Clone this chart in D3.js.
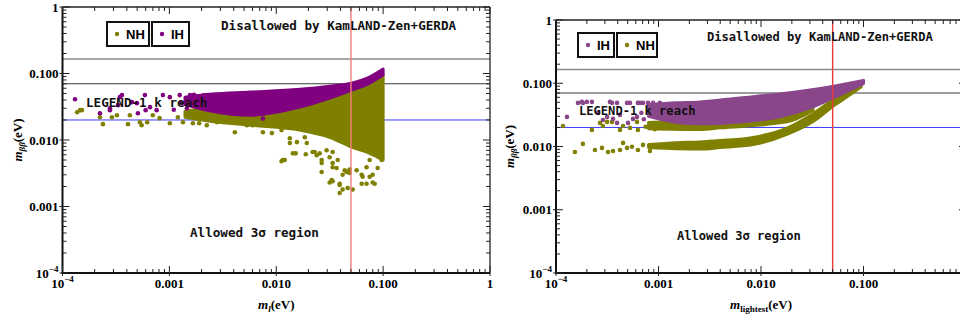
<!DOCTYPE html>
<html>
<head>
<meta charset="utf-8">
<script src="https://cdn.jsdelivr.net/npm/d3@7"></script>
<style>
  body { margin: 0; background: #fff; }
  svg { display: block; }
</style>
</head>
<body>
<div class="chart"></div>
<script>
// decade ticks, same on every axis
const tickValues = [1e-4, 1e-3, 1e-2, 1e-1, 1];
const tickLabels = ['10^-4', '0.001', '0.010', '0.100', '1'];

// limits in eV
const kamlandUpper = 0.165;
const kamlandLower = 0.07;
const legendReach = 0.02;
const massCut = 0.05;

// left panel (m_l): dense part of each cloud as [m, low, high]
const ihBandLeft = [
  [0.0014, 0.034, 0.044], [0.0025, 0.027, 0.049], [0.0057, 0.0236, 0.0525],
  [0.0166, 0.0312, 0.058], [0.0316, 0.0426, 0.0646], [0.0508, 0.0562, 0.0717],
  [0.0748, 0.0717, 0.0883], [0.1, 0.0946, 0.1165]
];
const nhBandLeft = [
  [0.0014, 0.022, 0.027], [0.0025, 0.019, 0.030], [0.0057, 0.0167, 0.028],
  [0.0166, 0.0141, 0.035], [0.0316, 0.011, 0.046], [0.0508, 0.0078, 0.06],
  [0.0748, 0.0063, 0.075], [0.1, 0.005, 0.095]
];
// left panel: loose points [m, mbb]
const ihDotsLeft = [
  [0.000131, 0.0411], [0.000224, 0.0253], [0.000278, 0.0281], [0.00036, 0.0473],
  [0.00033, 0.0334], [0.000446, 0.0371], [0.000497, 0.0358], [0.000508, 0.0253],
  [0.00059, 0.0473], [0.0006, 0.0281], [0.00066, 0.0312], [0.00076, 0.0281],
  [0.00087, 0.0473], [0.00101, 0.0441], [0.00125, 0.0473], [0.00146, 0.0301],
  [0.00156, 0.0473], [0.0019, 0.0398], [0.000344, 0.0441], [0.000278, 0.0301],
  [0.0011, 0.0285], [0.0013, 0.036], [0.0017, 0.048], [0.0021, 0.047],
  [0.0075, 0.021]
];
const nhDotsLeft = [
  [0.000137, 0.0262], [0.000146, 0.0281], [0.000152, 0.0281], [0.000224, 0.022],
  [0.000239, 0.0173], [0.00029, 0.022], [0.000323, 0.0236], [0.00041, 0.0173],
  [0.000427, 0.0236], [0.00053, 0.0185], [0.00055, 0.0167], [0.00062, 0.0185],
  [0.0007, 0.0236], [0.00081, 0.0213], [0.00101, 0.0179], [0.00134, 0.0185],
  [0.00166, 0.0179], [0.0019, 0.0179], [0.00224, 0.0167], [0.00278, 0.0185],
  [0.0041, 0.0131], [0.0053, 0.0167], [0.0012, 0.022], [0.0016, 0.0245],
  [0.0060, 0.0167], [0.0075, 0.0131], [0.0091, 0.0127], [0.0112, 0.0141],
  [0.0134, 0.0106], [0.0156, 0.0093], [0.0143, 0.0063], [0.0115, 0.0050],
  [0.0112, 0.0048], [0.0185, 0.0110], [0.0219, 0.0066], [0.0255, 0.0063],
  [0.0266, 0.0050], [0.0316, 0.0055], [0.0337, 0.0039], [0.033, 0.0025],
  [0.0392, 0.0021], [0.0418, 0.0030], [0.0486, 0.0032], [0.0565, 0.0035],
  [0.0643, 0.0028], [0.070, 0.0039], [0.0798, 0.0030], [0.0889, 0.0038],
  [0.0968, 0.0050], [0.0748, 0.0050], [0.0134, 0.0090], [0.0193, 0.0090],
  [0.012, 0.0050], [0.0152, 0.0063], [0.0189, 0.0061], [0.0229, 0.0066],
  [0.0266, 0.0033], [0.0337, 0.0045], [0.0316, 0.0023], [0.0337, 0.0024],
  [0.0392, 0.0022], [0.0418, 0.0018], [0.0392, 0.0016], [0.0466, 0.0019],
  [0.0519, 0.0018], [0.0437, 0.0035], [0.0486, 0.0036], [0.063, 0.0030],
  [0.063, 0.0022], [0.070, 0.0022], [0.0798, 0.0023], [0.0834, 0.0022],
  [0.0748, 0.0028], [0.0266, 0.0045], [0.0376, 0.0050], [0.0456, 0.0033],
  [0.0367, 0.0038], [0.0296, 0.0070], [0.0337, 0.0066], [0.0239, 0.0059]
];

// right panel (m_lightest)
const ihBandRight = [
  [0.0008, 0.030, 0.046], [0.0015, 0.024, 0.049], [0.00254, 0.0228, 0.0507],
  [0.00624, 0.0245, 0.0586], [0.0153, 0.0294, 0.0678], [0.0301, 0.0407, 0.0784],
  [0.0527, 0.0608, 0.0906], [0.1, 0.099, 0.111]
];
const nhBandRightUpper = [
  [0.0008, 0.019, 0.024], [0.00254, 0.0185, 0.026], [0.00398, 0.0197, 0.027],
  [0.0179, 0.0245, 0.033], [0.0322, 0.0376, 0.045]
];
const nhBandRightLower = [
  [0.0008, 0.0096, 0.0108], [0.0015, 0.0092, 0.0115], [0.00254, 0.0091, 0.0118],
  [0.00398, 0.0096, 0.0124], [0.00836, 0.0107, 0.0139], [0.0179, 0.0155, 0.0195],
  [0.0322, 0.0248, 0.033], [0.0527, 0.0455, 0.0575], [0.069, 0.061, 0.074],
  [0.095, 0.088, 0.099]
];
const ihDotsRight = [
  [0.000128, 0.0294], [0.000164, 0.0489], [0.000179, 0.0507], [0.000183, 0.0489],
  [0.0002, 0.0507], [0.000224, 0.0507], [0.000257, 0.034], [0.000287, 0.0263],
  [0.000315, 0.0294], [0.000336, 0.0507], [0.00036, 0.0273], [0.000352, 0.0489],
  [0.000394, 0.0236], [0.000394, 0.0489], [0.000421, 0.0316], [0.000493, 0.0489],
  [0.000504, 0.0236], [0.000527, 0.0489], [0.000564, 0.0273], [0.000617, 0.0294],
  [0.00063, 0.0489], [0.00066, 0.0489], [0.000706, 0.0489], [0.00079, 0.0489],
  [0.000884, 0.0489], [0.00103, 0.0489], [0.00072, 0.027], [0.00068, 0.034]
];
const nhDotsRight = [
  [0.000117, 0.0211], [0.000153, 0.0082], [0.000183, 0.011], [0.000224, 0.0183],
  [0.00024, 0.0088], [0.000281, 0.0095], [0.000322, 0.0082], [0.00036, 0.0085],
  [0.000421, 0.0088], [0.000451, 0.0114], [0.000493, 0.0095], [0.000551, 0.0099],
  [0.00063, 0.0088], [0.000706, 0.0106], [0.000826, 0.0085], [0.000287, 0.0211],
  [0.000352, 0.0245], [0.000451, 0.0211], [0.000527, 0.0197], [0.000617, 0.0245],
  [0.000315, 0.0245], [0.000421, 0.0183], [0.00063, 0.0183], [0.000269, 0.0236],
  [0.00075, 0.0205], [0.00092, 0.0188]
];

const svg = d3.select('.chart')
  .append('svg')
  .attr('width', 960)
  .attr('height', 323);

// writes '10^-4' as 10 with a raised -4
function tickText(sel, label) {
  const parts = label.split('^');
  sel.append('tspan').text(parts[0]);
  if (parts[1]) {
    sel.append('tspan').attr('dy', -6).style('font-size', '9px').text(parts[1].replace('-', '\u2212'));
  }
}

function drawPanel(p) {
  const x = d3.scaleLog().domain([1e-4, 1]).range([p.left, p.right]);
  const y = d3.scaleLog().domain([1e-4, 1]).range([p.bottom, p.top]);
  const g = svg.append('g');

  g.append('clipPath').attr('id', p.id)
    .append('rect')
    .attr('x', p.left).attr('y', p.top)
    .attr('width', p.right - p.left).attr('height', p.bottom - p.top);

  const plot = g.append('g').attr('clip-path', `url(#${p.id})`);

  // limit lines
  const hLines = [[kamlandUpper, '#8a8a8a', 1.4], [kamlandLower, '#3a3a3a', 1.1], [legendReach, '#3b3bff', 1]];
  hLines.forEach(function(l) {
    plot.append('line')
      .attr('x1', p.left).attr('x2', p.right)
      .attr('y1', y(l[0])).attr('y2', y(l[0]))
      .attr('stroke', l[1]).attr('stroke-width', l[2]);
  });

  const area = d3.area()
    .x(function(d) { return x(d[0]); })
    .y0(function(d) { return y(d[1]); })
    .y1(function(d) { return y(d[2]); })
    .curve(d3.curveMonotoneX);

  // NH cloud first, IH drawn over it
  p.layers.forEach(function(layer) {
    layer.bands.forEach(function(band) {
      plot.append('path')
        .datum(band)
        .attr('d', area)
        .attr('fill', layer.color)
        .attr('stroke', layer.color)
        .attr('stroke-width', 3)
        .attr('stroke-linejoin', 'round');
    });
    plot.append('g').selectAll('circle')
      .data(layer.dots)
      .enter()
      .append('circle')
      .attr('cx', function(d) { return x(d[0]); })
      .attr('cy', function(d) { return y(d[1]); })
      .attr('r', 2.3)
      .attr('fill', layer.color);
  });

  plot.append('line')
    .attr('x1', x(massCut)).attr('x2', x(massCut))
    .attr('y1', p.top).attr('y2', p.bottom)
    .attr('stroke', p.cutColor).attr('stroke-width', 1.4);

  // frame
  g.append('line').attr('x1', p.left).attr('x2', p.right).attr('y1', p.top).attr('y2', p.top)
    .attr('stroke', '#222').attr('stroke-width', 1.5);
  g.append('line').attr('x1', p.right).attr('x2', p.right).attr('y1', p.top).attr('y2', p.bottom)
    .attr('stroke', '#222').attr('stroke-width', 1.3);
  g.append('line').attr('x1', p.left).attr('x2', p.left).attr('y1', p.top).attr('y2', p.bottom + 1)
    .attr('stroke', '#111').attr('stroke-width', 2);
  g.append('line').attr('x1', p.left - 1).attr('x2', p.right).attr('y1', p.bottom).attr('y2', p.bottom)
    .attr('stroke', '#111').attr('stroke-width', 2);

  // major and minor ticks, pointing inward on all four sides
  const minor = [];
  for (let e = -4; e < 0; e++) {
    for (let k = 2; k < 10; k++) minor.push(k * Math.pow(10, e));
  }
  const ticks = g.append('g').attr('stroke', '#222').attr('stroke-width', 1);
  tickValues.forEach(function(v) {
    ticks.append('line').attr('x1', x(v)).attr('x2', x(v)).attr('y1', p.bottom + 3).attr('y2', p.bottom - 7);
    ticks.append('line').attr('x1', x(v)).attr('x2', x(v)).attr('y1', p.top).attr('y2', p.top + 7);
    ticks.append('line').attr('y1', y(v)).attr('y2', y(v)).attr('x1', p.left - 3).attr('x2', p.left + 7);
    ticks.append('line').attr('y1', y(v)).attr('y2', y(v)).attr('x1', p.right).attr('x2', p.right - 7);
  });
  minor.forEach(function(v) {
    ticks.append('line').attr('x1', x(v)).attr('x2', x(v)).attr('y1', p.bottom).attr('y2', p.bottom - 4);
    ticks.append('line').attr('x1', x(v)).attr('x2', x(v)).attr('y1', p.top).attr('y2', p.top + 4);
    ticks.append('line').attr('y1', y(v)).attr('y2', y(v)).attr('x1', p.left).attr('x2', p.left + 4);
    ticks.append('line').attr('y1', y(v)).attr('y2', y(v)).attr('x1', p.right).attr('x2', p.right - 4);
  });

  // tick labels (the right panel's last one falls outside the picture)
  const serif = '"Liberation Serif", "Times New Roman", serif';
  tickValues.forEach(function(v, i) {
    if (x(v) < 955) {
      const tx = g.append('text')
        .attr('x', x(v)).attr('y', p.bottom + 15)
        .attr('text-anchor', 'middle')
        .style('font-family', serif).style('font-weight', 'bold').style('font-size', '13px');
      tickText(tx, tickLabels[i]);
    }
    const ty = g.append('text')
      .attr('x', p.left - 4).attr('y', y(v) + 4.5)
      .attr('text-anchor', 'end')
      .style('font-family', serif).style('font-weight', 'bold').style('font-size', '13px');
    tickText(ty, tickLabels[i]);
  });

  // axis titles
  const xt = g.append('text')
    .attr('x', (p.left + p.right) / 2).attr('y', p.bottom + 36)
    .attr('text-anchor', 'middle')
    .style('font-family', serif).style('font-weight', 'bold').style('font-size', '13px');
  xt.append('tspan').style('font-style', 'italic').text('m');
  xt.append('tspan').attr('dy', 3).style('font-size', '9px').style('font-style', p.subItalic ? 'italic' : 'normal').text(p.xSub);
  xt.append('tspan').attr('dy', -3).text('(eV)');

  const yt = g.append('text')
    .attr('transform', `translate(${p.yTitleX},${(p.top + p.bottom) / 2}) rotate(-90)`)
    .attr('text-anchor', 'middle')
    .style('font-family', serif).style('font-weight', 'bold').style('font-size', '13px');
  yt.append('tspan').style('font-style', 'italic').text('m');
  yt.append('tspan').attr('dy', 3).style('font-size', '9px').style('font-style', 'italic').text('\u03b2\u03b2');
  yt.append('tspan').attr('dy', -3).text('(eV)');

  // annotations
  const mono = '"DejaVu Sans Mono", "Liberation Mono", monospace';
  p.notes.forEach(function(n) {
    g.append('text')
      .attr('x', n.x).attr('y', n.y)
      .style('font-family', mono).style('font-weight', 'bold').style('font-size', n.size + 'px')
      .style('fill', '#111')
      .text(n.text);
  });

  // legend boxes
  p.legend.forEach(function(l) {
    const lg = g.append('g').attr('transform', `translate(${l.x},${l.y})`);
    lg.append('rect').attr('width', l.w).attr('height', 24)
      .attr('fill', '#fff').attr('stroke', '#111').attr('stroke-width', 2);
    lg.append('circle').attr('cx', 10).attr('cy', 12).attr('r', 2.2).attr('fill', l.color);
    lg.append('text').attr('x', 19).attr('y', 16.5)
      .style('font-family', '"Liberation Sans", Arial, sans-serif')
      .style('font-weight', 'bold').style('font-size', '13px')
      .text(l.name);
  });
}

const olive = '#808000';

drawPanel({
  id: 'clipLeft', left: 62.5, right: 490, top: 7, bottom: 273,
  yTitleX: 22, xSub: 'l', subItalic: true, cutColor: '#f47c7c',
  layers: [
    { color: olive, bands: [nhBandLeft], dots: nhDotsLeft },
    { color: '#800080', bands: [ihBandLeft], dots: ihDotsLeft }
  ],
  notes: [
    { text: 'Disallowed by KamLAND-Zen+GERDA', x: 221, y: 30, size: 12.6 },
    { text: 'LEGEND-1 k reach', x: 86, y: 107, size: 12.6 },
    { text: 'Allowed 3\u03c3 region', x: 190, y: 237, size: 12.6 }
  ],
  legend: [
    { name: 'NH', color: olive, x: 107, y: 22, w: 42 },
    { name: 'IH', color: '#800080', x: 152, y: 22, w: 37 }
  ]
});

drawPanel({
  id: 'clipRight', left: 556, right: 966, top: 20, bottom: 273,
  yTitleX: 514, xSub: 'lightest', subItalic: false, cutColor: '#e83a3a',
  layers: [
    { color: olive, bands: [nhBandRightUpper, nhBandRightLower], dots: nhDotsRight },
    { color: '#8a468a', bands: [ihBandRight], dots: ihDotsRight }
  ],
  notes: [
    { text: 'Disallowed by KamLAND-Zen+GERDA', x: 707, y: 41, size: 12.1 },
    { text: 'LEGEND-1 k reach', x: 579, y: 115, size: 12.1 },
    { text: 'Allowed 3\u03c3 region', x: 677, y: 240, size: 12.1 }
  ],
  legend: [
    { name: 'IH', color: '#8a468a', x: 578, y: 33, w: 36 },
    { name: 'NH', color: olive, x: 617, y: 33, w: 40 }
  ]
});
</script>
</body>
</html>
